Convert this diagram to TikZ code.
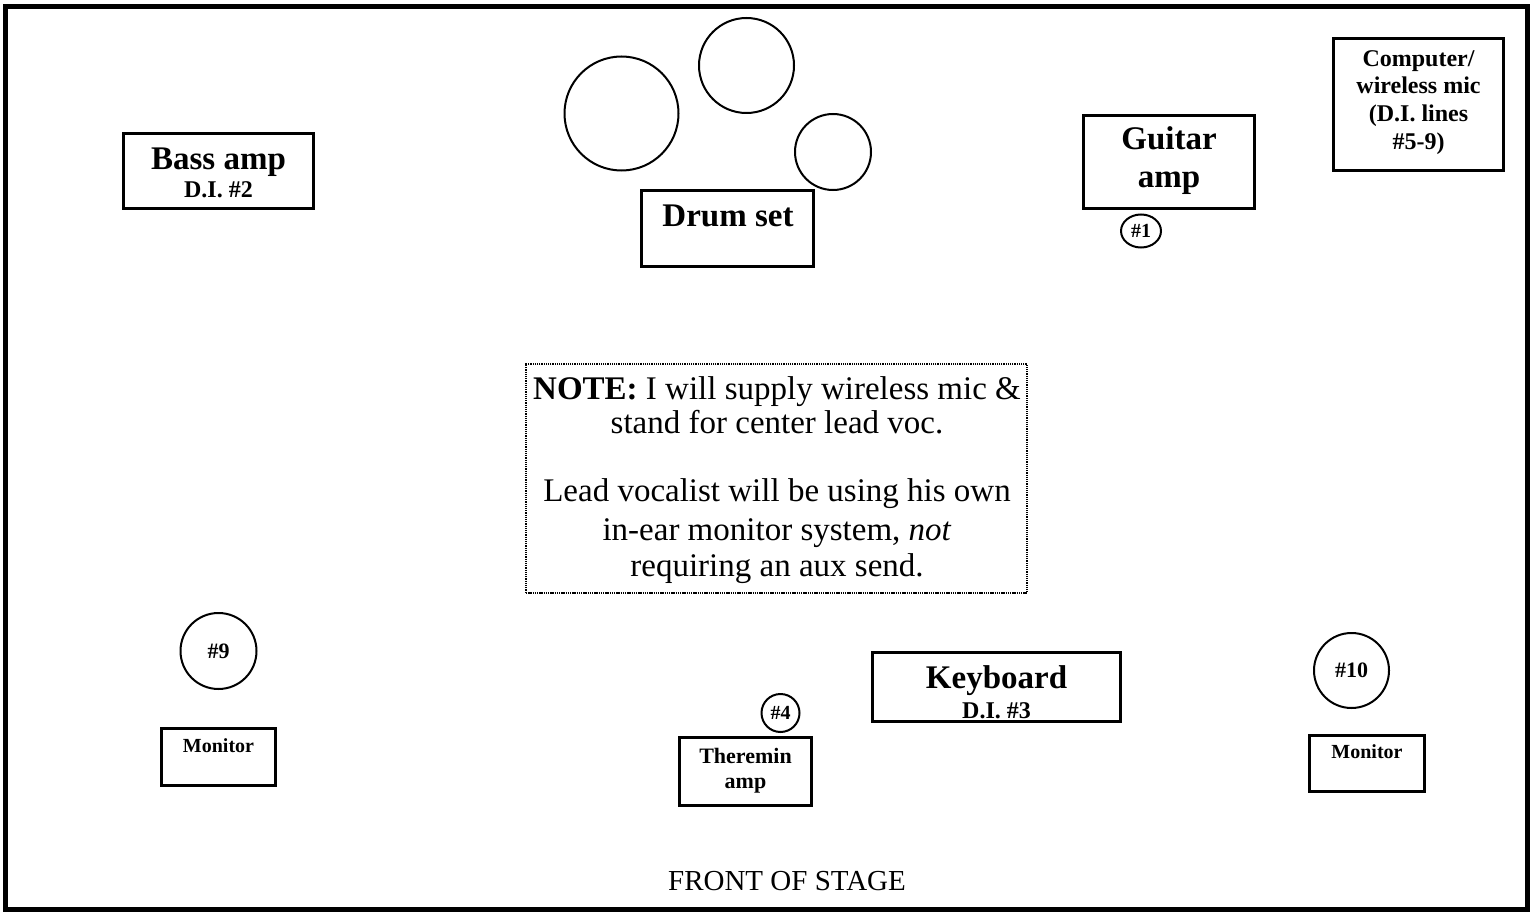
\documentclass[tikz,border=0pt]{standalone}
\usepackage{fontspec}
\setmainfont{Liberation Serif}
\usetikzlibrary{shapes.geometric}
\newcommand{\fsz}[1]{\fontsize{#1}{#1}\selectfont}
\begin{document}
\begin{tikzpicture}[x=1pt,y=-1pt,
  box/.style 2 args={draw,line width=3pt,inner sep=0pt,outer sep=0pt,minimum width=#1,minimum height=#2},
  drum/.style={draw,circle,line width=2pt,inner sep=0pt,minimum size=#1},
  tag/.style={draw,circle,line width=2pt,inner sep=0pt,minimum size=#1,font=\fsz{22}\bfseries},
  bigt/.style={anchor=base,font=\fsz{33}\bfseries},
  midt/.style={anchor=base,font=\fsz{24}\bfseries},
  smlt/.style={anchor=base,font=\fsz{20}\bfseries},
  notet/.style={anchor=base,font=\fsz{33}},
]
\useasboundingbox (0,0) rectangle (1534,912);
\fill[white] (0,0) rectangle (1534,912);
% stage frame
\draw[line width=5pt] (5.5,6.5) rectangle (1527.5,909.5);

% drums
\node[drum=114] (kick) at (621.5,113.5) {};
\node[drum=95] (tom) at (746.5,65.5) {};
\node[drum=76] (floor) at (833,152) {};
\node[box={172}{76}] (drumbox) at (727.5,228.5) {};
\node[bigt] (drumt) at (728,227) {Drum set};

% bass amp
\node[box={190}{75}] (bass) at (218.5,171) {};
\node[bigt] (basst) at (218.5,170) {Bass amp};
\node[midt] (bassdi) at (218.5,198) {D.I. \#2};

% guitar amp
\node[box={171}{93}] (guitar) at (1169,162) {};
\node[bigt] (guitart1) at (1169,150) {Guitar};
\node[bigt] (guitart2) at (1169,188) {amp};
\node[draw,ellipse,line width=2pt,inner sep=0pt,minimum width=40,minimum height=33,font=\fsz{20}\bfseries] (m1) at (1141,231) {\#1};

% computer
\node[box={170}{132}] (comp) at (1418.5,104.5) {};
\node[midt] (compt1) at (1418.5,67) {Computer/};
\node[midt] (compt2) at (1418.5,94) {wireless mic};
\node[midt] (compt3) at (1418.5,122) {(D.I. lines};
\node[midt] (compt4) at (1418.5,150) {\#5-9)};

% note
\node[draw,line width=1.3pt,dash pattern=on 1.3pt off 0.9pt,inner sep=0pt,minimum width=501,minimum height=229] (note) at (776.5,478.5) {};
\node[notet] (n1) at (777,399) {\textbf{NOTE:} I will supply wireless mic \&};
\node[notet] (n2) at (777,433) {stand for center lead voc.};
\node[notet] (n3) at (777,501) {Lead vocalist will be using his own};
\node[notet] (n4) at (777,540) {in-ear monitor system, \textit{not}};
\node[notet] (n5) at (777,576) {requiring an aux send.};

% left monitor
\node[tag=76] (m9) at (218.5,651) {\#9};
\node[box={114}{57}] (monl) at (218.5,757) {};
\node[smlt] (monlt) at (218.5,752) {Monitor};

% theremin
\node[tag=38,font=\fsz{20}\bfseries] (m4) at (780.5,713) {\#4};
\node[box={132}{68}] (ther) at (745.5,771.5) {};
\node[smlt,font=\fsz{22}\bfseries] (thert1) at (745.5,763) {Theremin};
\node[smlt,font=\fsz{22}\bfseries] (thert2) at (745.5,788) {amp};

% keyboard
\node[box={248}{69}] (key) at (996.5,687) {};
\node[bigt] (keyt) at (996.5,688) {Keyboard};
\node[midt] (keydi) at (996.5,718) {D.I. \#3};

% right monitor
\node[tag=75] (m10) at (1351.5,670.5) {\#10};
\node[box={115}{56}] (monr) at (1367,763.5) {};
\node[smlt] (monrt) at (1367,758) {Monitor};

% front of stage
\node[anchor=base,font=\fsz{29}] (front) at (787,890) {FRONT OF STAGE};
\end{tikzpicture}
\end{document}
